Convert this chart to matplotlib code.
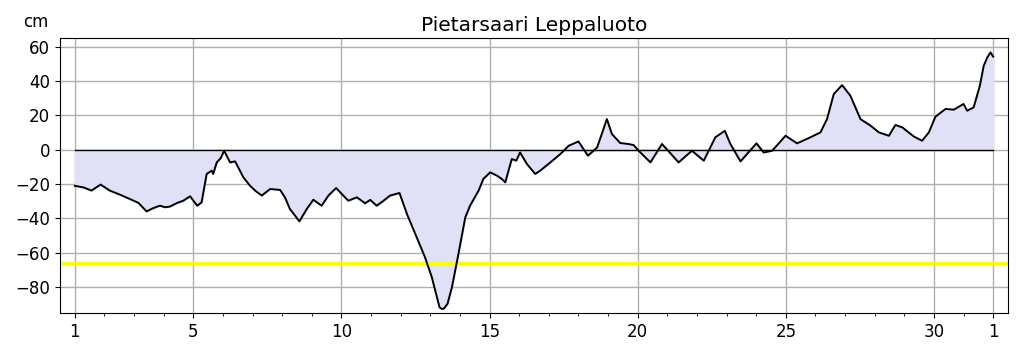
import matplotlib
matplotlib.use("Agg")
import matplotlib.pyplot as plt
import numpy as np

# sea level readings (day of month, cm)
days = [1.0, 1.3, 1.56, 1.87, 2.18, 2.5, 2.86, 3.15, 3.42, 3.65, 3.87, 4.05, 4.21, 4.45,
        4.66, 4.89, 5.13, 5.28, 5.45, 5.62, 5.67, 5.79, 5.92, 6.04, 6.24, 6.41, 6.69,
        6.91, 7.1, 7.31, 7.59, 7.93, 8.1, 8.26, 8.58, 8.83, 9.05, 9.33, 9.56, 9.82,
        10.23, 10.52, 10.8, 10.97, 11.19, 11.42, 11.64, 11.96, 12.21, 12.54, 12.82,
        13.05, 13.31, 13.38, 13.45, 13.58, 13.73, 13.95, 14.18, 14.34, 14.63, 14.79,
        15.02, 15.25, 15.41, 15.53, 15.75, 15.9, 16.03, 16.26, 16.54, 16.71, 17.05,
        17.39, 17.67, 18.0, 18.32, 18.63, 18.96, 19.13, 19.41, 19.69, 19.86, 20.09,
        20.43, 20.82, 21.1, 21.38, 21.83, 22.23, 22.62, 22.94, 23.13, 23.47, 24.01,
        24.25, 24.54, 24.99, 25.38, 25.83, 26.17, 26.39, 26.62, 26.9, 27.18, 27.35,
        27.52, 27.86, 28.14, 28.48, 28.7, 28.93, 29.32, 29.6, 29.83, 30.05, 30.39,
        30.67, 31.0, 31.12, 31.34, 31.55, 31.68, 31.8, 31.91, 32.0]
level = [-21, -22, -23.8, -20.3, -23.8, -26, -28.7, -31, -35.9, -34, -32.6, -33.5, -33.1,
         -31, -29.7, -27.1, -32.6, -30.6, -14.1, -12.2, -14.1, -7.4, -5, -0.6, -7.4,
         -6.8, -16.1, -20.9, -24, -26.7, -22.9, -23.4, -28, -34.5, -41.7, -34.5, -29.1,
         -32.6, -26.7, -22.3, -29.7, -27.7, -31.2, -29.2, -32.6, -29.7, -26.7, -25.2,
         -37.4, -51.0, -62.6, -74.2, -91.7, -92.6, -92.6, -89.7, -80.0, -60.6, -39.4,
         -32.6, -23.8, -17.0, -13.2, -15.1, -17.0, -19.0, -5.4, -6.4, -1.6, -8.3, -14.1,
         -12.2, -7.4, -2.5, 2.3, 4.8, -3.5, 1.3, 17.8, 9.1, 3.9, 3.3, 2.7, -1.6, -7.4,
         3.3, -2, -7.4, -0.6, -6.4, 7.2, 11.0, 3.3, -6.8, 3.7, -1.6, -0.6, 8.1, 3.7,
         7.2, 10.1, 17.8, 32.4, 37.6, 31.4, 24.6, 17.8, 14.0, 10.1, 8.1, 14.4, 13.0,
         7.7, 5.2, 10.1, 19.2, 23.7, 23.3, 26.6, 22.7, 24.6, 37.2, 48.8, 53.7, 56.6, 54.2]

warn_level = -66
major_days = [1, 5, 10, 15, 20, 25, 30, 32]
major_labels = ["1", "5", "10", "15", "20", "25", "30", "1"]

fig = plt.figure(figsize=(10.19, 3.52), dpi=100)
ax = fig.add_axes([0.0589, 0.111, 0.9303, 0.781])

ax.fill_between(days, level, 0, color=(0.88, 0.88, 0.97), zorder=1)
ax.plot([1, 32], [0, 0], color="black", lw=1.0, zorder=3)
ax.axhline(warn_level, color="yellow", lw=2.5, zorder=2)
ax.plot(days, level, color="black", lw=1.4, zorder=4)

ax.set_xlim(0.5, 32.5)
ax.set_ylim(-95, 65)
ax.set_xticks(major_days)
ax.set_xticklabels(major_labels)
ax.set_xticks(np.arange(1, 33), minor=True)
ax.set_yticks(np.arange(-80, 61, 20))
ax.grid(True, which="major", color="#b0b0b0", lw=1.0, zorder=0)
ax.set_axisbelow(True)
ax.tick_params(labelsize=12)

ax.set_title("Pietarsaari Leppaluoto", fontsize=14.5, pad=5)
fig.text(36 / 1019, 1 - 22 / 352, "cm", fontsize=12, ha="center", va="center")

fig.savefig("out.png", dpi=100)
